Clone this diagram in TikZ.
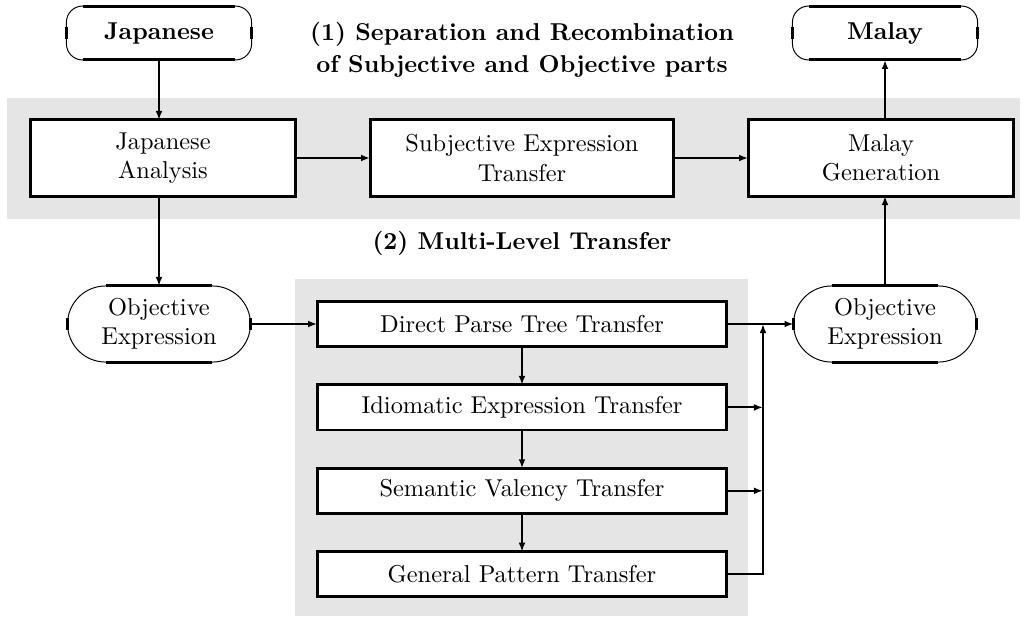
\documentclass[tikz,border=0pt]{standalone}
\usepackage{amsmath,amssymb}
\usepackage{tikz}
\usetikzlibrary{arrows.meta,chains,positioning}

\begin{document}
\begin{tikzpicture}[
x=0.41pt, y=-0.41pt,
  >={Latex[length=3.7pt,width=2.8pt]},
 band/.style = {fill=gray!20},% grey background strips
  box/.style = {rectangle, draw, very thick, fill=white,
                minimum width=109pt, minimum height=31.2pt,
                align=center, outer sep=0pt},
stage/.style = {rectangle, draw, very thick, fill=white,
                minimum width=168pt, minimum height=18.5pt,
                outer sep=0pt, on chain},
 term/.style = {rectangle, draw, thin, fill=white, rounded corners=6.6pt,
                minimum width=75.9pt, minimum height=22.1pt,
                font=\bfseries, outer sep=0pt},
  obj/.style = {rectangle, draw, thin, fill=white, rounded corners=15.6pt,
                minimum width=75pt, minimum height=31.2pt,
                align=center, outer sep=0pt},
 conn/.style = {->, thick},
 head/.style = {font=\bfseries, align=center},
                        ]
\useasboundingbox (0,0) rectangle (1026,616);
% background strips
\fill[band] (7,98) rectangle (1020,219);
\fill[band] (295,279) rectangle (748,616);
% top row
\node[term] (jp) at (159,33) {Japanese};
\node[term] (ms) at (885,33) {Malay};
\node[head] (h1) at (522,50) {(1) Separation and Recombination\\[1pt]of Subjective and Objective parts};
% (1) strip
\node[box] (ja) at (163,158) {Japanese\\Analysis};
\node[box, minimum width=124.6pt] (sub) at (522,158) {Subjective Expression\\Transfer};
\node[box] (mg) at (881,158) {Malay\\Generation};
\node[head] (h2) at (522,243) {(2) Multi-Level Transfer};
% objective parts
\node[obj] (objl) at (159,324) {Objective\\Expression};
\node[obj] (objr) at (885,324) {Objective\\Expression};
% (2) strip
\begin{scope}[start chain=T going below, node distance=15.7pt]
\node[stage, at={(522,324)}] {Direct Parse Tree Transfer};
\foreach \i in {Idiomatic Expression Transfer,Semantic Valency Transfer,General Pattern Transfer}% <-- levels
    \node[stage] {\i};
\end{scope}
\coordinate (bus) at (763,324);
% thick straight parts of the rounded boxes
\foreach \n/\r in {jp/6.6pt,ms/6.6pt,objl/15.6pt,objr/15.6pt}{
  \draw[very thick] ([xshift=\r]\n.north west) -- ([xshift=-\r]\n.north east)
                    ([xshift=\r]\n.south west) -- ([xshift=-\r]\n.south east)
                    ([yshift=2.5pt]\n.west) -- ([yshift=-2.5pt]\n.west)
                    ([yshift=2.5pt]\n.east) -- ([yshift=-2.5pt]\n.east);
}
% connectors
\draw[conn] (jp.south) -- (jp.south |- ja.north);
\draw[conn] (objl.north |- ja.south) -- (objl.north);
\draw[conn] (ja) -- (sub);
\draw[conn] (sub) -- (mg);
\draw[conn] (ms.south |- mg.north) -- (ms.south);
\draw[conn] (objr.north) -- (objr.north |- mg.south);
\draw[conn] (objl) -- (T-1);
\draw[conn] (T-1) -- (objr);
\foreach \a/\b in {1/2,2/3,3/4}
    \draw[conn] (T-\a) -- (T-\b);
\draw[conn] (T-2.east) -- (T-2.east -| bus);
\draw[conn] (T-3.east) -- (T-3.east -| bus);
\draw[conn] (T-4.east) -| (bus);
\end{tikzpicture}
\end{document}
